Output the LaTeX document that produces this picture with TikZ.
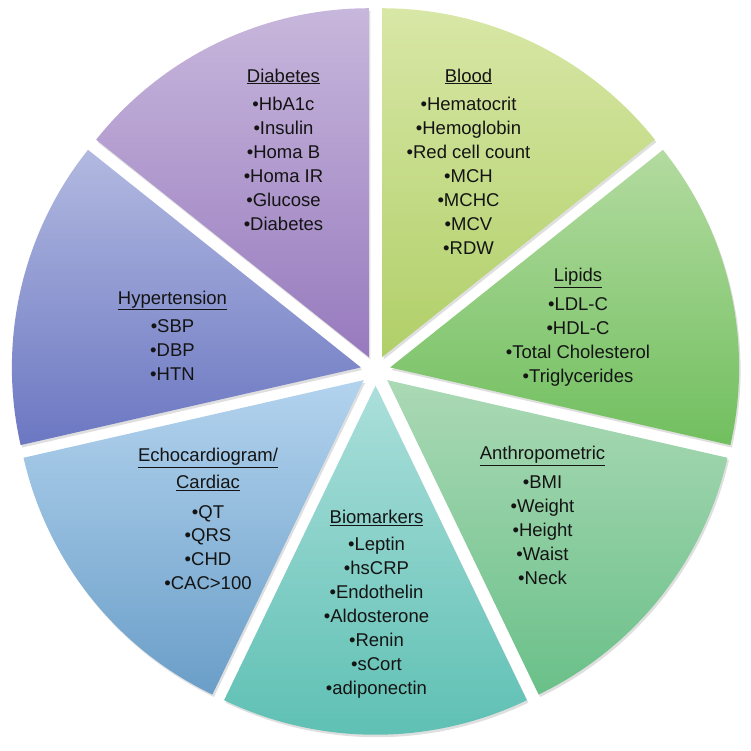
\documentclass[tikz,border=0pt]{standalone}
\usepackage{fontspec}
\setmainfont{Liberation Sans}
\usepackage{tikz}
\usepackage{xcolor}
\definecolor{diabtop}{HTML}{C8B7DC}
\definecolor{diabbot}{HTML}{977ABE}
\definecolor{bloodtop}{HTML}{D8E7A6}
\definecolor{bloodbot}{HTML}{B0CF68}
\definecolor{lipidtop}{HTML}{B3DBA0}
\definecolor{lipidbot}{HTML}{71BF5F}
\definecolor{anthtop}{HTML}{ABD9B5}
\definecolor{anthbot}{HTML}{6AC089}
\definecolor{biotop}{HTML}{ABDFDB}
\definecolor{biobot}{HTML}{5CBFB2}
\definecolor{echotop}{HTML}{B3D3EE}
\definecolor{echobot}{HTML}{6A9EC8}
\definecolor{hyptop}{HTML}{B2B9E0}
\definecolor{hypbot}{HTML}{6B77C2}
\tikzset{slice/.style={draw=none,
   drop shadow={opacity=.25, shadow xshift=1.5pt, shadow yshift=-2.5pt}},
 topic/.style={align=center, anchor=north, inner sep=0pt,
   font=\fontsize{18.5}{24}\selectfont, text=black!92},
 }
\usetikzlibrary{shadows}

\begin{document}
\begin{tikzpicture}[x=1pt, y=1pt]
        \useasboundingbox (-375.5, -380.25) rectangle (375.5, 370.75);
        \path[slice, top color=bloodtop, bottom color=bloodbot] (64.29:15pt) -- ++(38.57:349pt) arc[start angle=38.57, end angle=90, radius=349pt] -- cycle;
        \path[slice, top color=diabtop, bottom color=diabbot] (115.71:15pt) -- ++(90:349pt) arc[start angle=90, end angle=141.43, radius=349pt] -- cycle;
        \path[slice, top color=hyptop, bottom color=hypbot] (167.14:15pt) -- ++(141.43:349pt) arc[start angle=141.43, end angle=192.86, radius=349pt] -- cycle;
        \path[slice, top color=echotop, bottom color=echobot] (218.57:15pt) -- ++(192.86:349pt) arc[start angle=192.86, end angle=244.29, radius=349pt] -- cycle;
        \path[slice, top color=biotop, bottom color=biobot] (270:15pt) -- ++(244.29:349pt) arc[start angle=244.29, end angle=295.71, radius=349pt] -- cycle;
        \path[slice, top color=anthtop, bottom color=anthbot] (321.43:15pt) -- ++(295.71:349pt) arc[start angle=295.71, end angle=347.14, radius=349pt] -- cycle;
        \path[slice, top color=lipidtop, bottom color=lipidbot] (12.86:15pt) -- ++(-12.86:349pt) arc[start angle=-12.86, end angle=38.57, radius=349pt] -- cycle;
        \node[topic] (diabetes) at (-92, 302.3) {\underline{Diabetes}\\[4.5pt] \textbullet HbA1c\\ \textbullet Insulin\\ \textbullet Homa B\\ \textbullet Homa IR\\ \textbullet Glucose\\ \textbullet Diabetes};
        \node[topic] (blood) at (93, 302.3) {\underline{Blood}\\[4.5pt] \textbullet Hematocrit\\ \textbullet Hemoglobin\\ \textbullet Red cell count\\ \textbullet MCH\\ \textbullet MCHC\\ \textbullet MCV\\ \textbullet RDW};
        \node[topic] (lipids) at (202.5, 102.8) {\underline{Lipids}\\[5pt] \textbullet LDL-C\\ \textbullet HDL-C\\ \textbullet Total Cholesterol\\ \textbullet Triglycerides};
        \node[topic] (anthro) at (167, -75.6) {\underline{Anthropometric}\\[5pt] \textbullet BMI\\ \textbullet Weight\\ \textbullet Height\\ \textbullet Waist\\ \textbullet Neck};
        \node[topic] (biomark) at (1, -139.6) {\underline{Biomarkers}\\[3pt] \textbullet Leptin\\ \textbullet hsCRP\\ \textbullet Endothelin\\ \textbullet Aldosterone\\ \textbullet Renin\\ \textbullet sCort\\ \textbullet adiponectin};
        \node[topic] (echo) at (-167.5, -77.6) {\underline{Echocardiogram/}\\[3pt] \underline{Cardiac}\\[6pt] \textbullet QT\\[-1pt] \textbullet QRS\\ \textbullet CHD\\ \textbullet CAC>100};
        \node[topic] (hypert) at (-203, 80.3) {\underline{Hypertension}\\[4.5pt] \textbullet SBP\\ \textbullet DBP\\ \textbullet HTN};
    \end{tikzpicture}
\end{document}
